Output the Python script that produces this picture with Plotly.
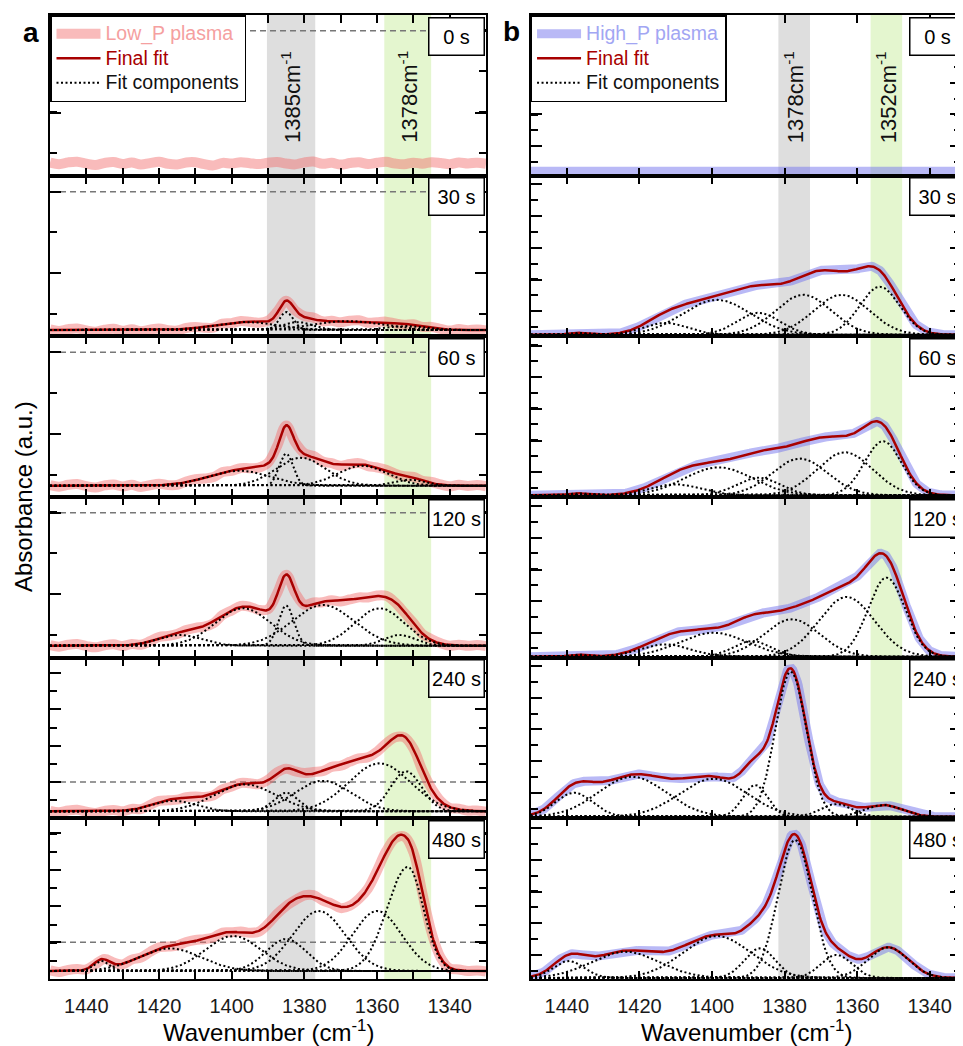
import numpy as np
import plotly.graph_objects as go
from plotly.subplots import make_subplots

# ---------------- data ----------------
TIMES = ["0 s", "30 s", "60 s", "120 s", "240 s", "480 s"]

# Low_P plasma (panel a): fitted components -> centre (cm-1), height (a.u.),
# FWHM on the high-wavenumber side and on the low-wavenumber side (cm-1)
LOWP_CENTER = [
    [],
    [1396.0, 1385.0, 1382.0, 1368.0, 1352.0],
    [1398.0, 1385.0, 1381.0, 1364.0, 1351.0],
    [1414.3, 1396.9, 1385.0, 1374.9, 1359.3, 1353.8],
    [1416.0, 1396.4, 1385.0, 1374.9, 1359.3, 1352.0],
    [1435.8, 1417.0, 1399.6, 1385.0, 1376.0, 1360.0, 1351.5],
]
LOWP_HEIGHT = [
    [],
    [8.0, 18.0, 8.0, 9.0, 4.0],
    [15.0, 32.0, 28.0, 20.0, 6.0],
    [10.7, 37.4, 40.0, 40.7, 37.4, 10.7],
    [10.6, 27.0, 18.6, 30.6, 48.0, 40.0],
    [10.0, 22.7, 35.0, 32.0, 60.0, 60.0, 104.0],
]
LOWP_FWHM = [
    [],
    [20, 4.5, 10, 22, 12],
    [20, 4.5, 16, 16, 10],
    [14, 18, 5, 20, 16, 10],
    [14, 20, 8, 18, 20, 10],
    [5, 20, 18, 13, 17, 16, 13.5],
]
LOWP_FWHM_LO = [
    [],
    [20, 4.5, 10, 22, 12],
    [20, 4.5, 16, 16, 10],
    [14, 18, 5, 20, 16, 10],
    [14, 20, 8, 18, 20, 10],
    [5, 20, 18, 13, 17, 16, 10],
]
# measured scatter of the Low_P spectra around the fit (a.u.), 1450 -> 1330 cm-1, every 2.5 cm-1
LOWP_NOISE = [0.6, -1.0, 0.9, 1.6, -0.4, -1.7, 0.3, 1.2, -0.7, 0.8,
              -1.3, 0.2, 1.5, -0.5, -1.2, 0.8, 1.0, -0.9, -2.1, 0.4,
              -0.3, 1.1, 0.1, -0.8, 0.6, 1.3, -0.2, -1.1, 0.9, 1.7,
              -0.5, 0.4, -1.3, 0.2, 1.0, -0.7, 0.5, 1.4, -0.3, -1.0,
              0.6, -0.4, 1.1, 0.3, -0.9, 0.8, -0.2, 0.6, -0.5]

# High_P plasma (panel b)
HIGHP_CENTER = [
    [],
    [1437.0, 1412.9, 1398.7, 1387.2, 1374.8, 1364.3, 1353.8],
    [1437.0, 1410.1, 1398.2, 1387.2, 1375.8, 1363.4, 1352.9],
    [1437.0, 1412.9, 1399.6, 1389.0, 1378.0, 1362.9, 1351.9],
    [1438.0, 1422.0, 1399.6, 1388.1, 1378.3, 1365.7, 1352.8],
    [1439.5, 1423.9, 1398.7, 1386.8, 1377.1, 1365.7, 1351.5],
]
HIGHP_HEIGHT = [
    [],
    [2.0, 12.0, 35.0, 22.0, 40.0, 40.0, 48.0],
    [2.0, 11.0, 28.0, 17.7, 36.7, 43.0, 54.0],
    [2.0, 12.4, 24.0, 15.7, 37.4, 59.7, 79.0],
    [24.0, 40.0, 38.0, 31.7, 145.0, 12.7, 11.7],
    [17.0, 26.3, 42.0, 29.7, 138.0, 23.0, 30.7],
]
HIGHP_FWHM = [
    [],
    [6, 14, 22, 14, 18, 18, 13],
    [6, 16, 22, 14, 18, 18, 12],
    [6, 16, 22, 12, 18, 18, 12],
    [12, 22, 22, 8, 10, 10, 12],
    [10, 22, 22, 10, 11, 10, 13],
]

# marker bands (cm-1) and their labels
A_BANDS = [(1390.3, 1377.0, "#dedede", "1385cm<sup>-1</sup>"),
           (1358.0, 1345.1, "#e4f6cf", "1378cm<sup>-1</sup>")]
B_BANDS = [(1381.7, 1373.0, "#dedede", "1378cm<sup>-1</sup>"),
           (1356.3, 1347.6, "#e4f6cf", "1352cm<sup>-1</sup>")]

# per-row y-axis settings (a.u.)
A_OFFSET = [12.4, 6.3, 11.3, 12.0, 7.0, 8.0]
A_MAJOR0 = [50.6, 56.7, 51.7, 51.7, 29.3, 28.7]
A_MAJORDT = [82.0, 81.6, 81.7, 81.3, 36.4, 36.4]
A_MINOR0 = [10.0, 16.0, 10.7, 10.7, 11.0, 10.0]
A_MINORDT = [41.0, 40.8, 41.0, 41.0, 18.2, 18.2]
A_DASH = [132.6, 138.3, 133.4, 133.0, 29.3, 28.7]

B_OFFSET = [4.5, 1.5, 1.7, 1.0, 1.6, 1.0]
B_MAJOR0 = [25.0, 23.6, 23.0, 23.7, 24.0, 23.0]
B_MAJORDT = [31.7] * 6
B_MINOR0 = [9.0, 7.8, 7.7, 8.2, 8.0, 7.3]
B_MINORDT = [15.85] * 6

X_TICKS = [1440, 1420, 1400, 1380, 1360, 1340]

# ---------------- figure ----------------
FONT = "Liberation Sans, Arial, Helvetica, sans-serif"
PAGE = 8                       # page body margin in the browser
W, H = 955, 1038
ML, MT = 42, 7
PW = 913
PH = 964
MR = W - ML - PW
MB = H - MT - PH
ROW_H = PH / 6.0


def px(p):   # page x pixel -> paper fraction
    return (p - PAGE - ML) / PW


def py(p):   # page y pixel -> paper fraction
    return (MT + PH - (p - PAGE)) / PH


PINK = "rgba(242,105,105,0.45)"
PINK_TXT = "#f5a0a0"
BLUE = "rgba(115,115,238,0.5)"
BLUE_TXT = "#a2a6f3"
RED = "#a80000"

XRANGE_A = [1450, 1330]
XRANGE_B = [1450, 1450 - 431.4 / 3.637]

fig = make_subplots(rows=6, cols=2, column_widths=[437, 431.4],
                    horizontal_spacing=44.6 / PW, vertical_spacing=0)

WN = np.arange(1450.0, 1329.9, -0.25)
NOISE_WN = np.linspace(1450.0, 1330.0, len(LOWP_NOISE))


def component(x, c, h, w_hi, w_lo=None):
    w = w_hi if w_lo is None else np.where(x >= c, w_hi, w_lo)
    return h * np.exp(-4.0 * np.log(2.0) * ((x - c) / w) ** 2)


def total(x, cs, hs, ws, wl):
    y = np.zeros_like(x)
    for c, h, w, w2 in zip(cs, hs, ws, wl):
        y = y + component(x, c, h, w, w2)
    return y


def ax_idx(r, c):
    return r * 2 + c + 1


def lname(text, color):
    return f'<span style="color:{color};font-size:19.5px">{text}</span>'


for col in range(2):
    legend_name = "legend" if col == 0 else "legend2"
    shown = {"data": False, "fit": False, "comp": False}
    for r in range(6):
        if col == 0:
            cs, hs, ws, wl = LOWP_CENTER[r], LOWP_HEIGHT[r], LOWP_FWHM[r], LOWP_FWHM_LO[r]
            dx = NOISE_WN
            dy = total(NOISE_WN, cs, hs, ws, wl) + np.array(LOWP_NOISE)
            dname = lname("Low_P plasma", PINK_TXT)
            dcol, dwidth, dshape = PINK, 10, "spline"
        else:
            cs, hs, ws = HIGHP_CENTER[r], HIGHP_HEIGHT[r], HIGHP_FWHM[r]
            wl = HIGHP_FWHM[r]
            dx = WN
            dy = total(WN, cs, hs, ws, wl)
            dname = lname("High_P plasma", BLUE_TXT)
            dcol, dwidth, dshape = BLUE, 9, "linear"
        fig.add_trace(go.Scatter(x=dx, y=dy, mode="lines", name=dname,
                                 line=dict(color=dcol, width=dwidth, shape=dshape),
                                 showlegend=not shown["data"], legend=legend_name,
                                 hoverinfo="skip"), row=r + 1, col=col + 1)
        shown["data"] = True
        if len(cs):
            fig.add_trace(go.Scatter(x=WN, y=total(WN, cs, hs, ws, wl), mode="lines",
                                     name=lname("Final fit", RED),
                                     line=dict(color=RED, width=2.5),
                                     showlegend=not shown["fit"], legend=legend_name,
                                     hoverinfo="skip"), row=r + 1, col=col + 1)
            shown["fit"] = True
            for c, h, w, w2 in zip(cs, hs, ws, wl):
                fig.add_trace(go.Scatter(x=WN, y=component(WN, c, h, w, w2), mode="lines",
                                         name=lname("Fit components", "#111111"),
                                         line=dict(color="black", width=2, dash="2px,2.5px"),
                                         showlegend=not shown["comp"], legend=legend_name,
                                         hoverinfo="skip"), row=r + 1, col=col + 1)
                shown["comp"] = True

# axes
for r in range(6):
    for col in range(2):
        if col == 0:
            off, m0, mdt, n0, ndt = A_OFFSET[r], A_MAJOR0[r], A_MAJORDT[r], A_MINOR0[r], A_MINORDT[r]
            xr = XRANGE_A
            xminor = dict(dtick=10, ticks="inside", ticklen=8, tickwidth=1.5, tickcolor="black")
        else:
            off, m0, mdt, n0, ndt = B_OFFSET[r], B_MAJOR0[r], B_MAJORDT[r], B_MINOR0[r], B_MINORDT[r]
            xr = XRANGE_B
            xminor = dict(ticks="")
        fig.update_yaxes(row=r + 1, col=col + 1, range=[-off, ROW_H - off],
                         tick0=m0, dtick=mdt, ticks="inside", ticklen=11, tickwidth=1.5,
                         tickcolor="black",
                         minor=dict(tick0=n0, dtick=ndt, ticks="inside", ticklen=7,
                                    tickwidth=1.5, tickcolor="black"),
                         showticklabels=False, showline=True, linewidth=2, linecolor="black",
                         mirror="ticks", showgrid=False, zeroline=False, fixedrange=True)
        fig.update_xaxes(row=r + 1, col=col + 1, range=xr, tickvals=X_TICKS,
                         ticktext=[str(v) for v in X_TICKS],
                         ticks="inside", ticklen=8, tickwidth=1.5, tickcolor="black",
                         minor=xminor, showticklabels=(r == 5),
                         tickfont=dict(family=FONT, size=20, color="#1a1a1a"),
                         ticklabelstandoff=8,
                         showline=True, linewidth=2, linecolor="black", mirror="ticks",
                         showgrid=False, zeroline=False, fixedrange=True)

shapes = []
annotations = []
# bands spanning the whole column
for col, bands in ((0, A_BANDS), (1, B_BANDS)):
    xref = "x" if col == 0 else "x2"
    for x0, x1, colr, label in bands:
        shapes.append(dict(type="rect", xref=xref, yref="paper", x0=x0, x1=x1, y0=0, y1=1,
                           fillcolor=colr, line=dict(width=0), layer="below"))
        annotations.append(dict(xref=xref, yref="y domain" if col == 0 else "y2 domain",
                                x=(x0 + x1) / 2, y=0.49, text=label, textangle=-90,
                                showarrow=False, xanchor="center", yanchor="middle",
                                font=dict(family=FONT, size=22, color="#111")))
# dashed reference lines (panel a)
for r in range(6):
    i = ax_idx(r, 0)
    shapes.append(dict(type="line", xref=f"x{i} domain" if i > 1 else "x domain",
                       yref=f"y{i}" if i > 1 else "y", x0=0, x1=1,
                       y0=A_DASH[r], y1=A_DASH[r],
                       line=dict(color="#777777", width=1.5, dash="6px,4px"), layer="below"))
# time labels
for r in range(6):
    for col in range(2):
        i = ax_idx(r, col)
        xs = "" if i == 1 else str(i)
        annotations.append(dict(xref=f"x{xs} domain", yref=f"y{xs} domain",
                                x=0.867 if col == 0 else 0.8795, y=1,
                                xanchor="left", yanchor="top", yshift=-1.5,
                                text=TIMES[r], showarrow=False, align="center",
                                width=52, height=34, borderpad=1,
                                bordercolor="black", borderwidth=1.5, bgcolor="white",
                                font=dict(family=FONT, size=20, color="black")))
# panel letters and titles
annotations += [
    dict(xref="paper", yref="paper", x=px(30.5), y=py(32),
         text="<b>a</b>", showarrow=False, xanchor="center", yanchor="middle",
         font=dict(family=FONT, size=28, color="black")),
    dict(xref="paper", yref="paper", x=px(513), y=py(31),
         text="<b>b</b>", showarrow=False, xanchor="center", yanchor="middle",
         font=dict(family=FONT, size=28, color="black")),
    dict(xref="paper", yref="paper", x=px(23), y=py(497), text="Absorbance (a.u.)",
         textangle=-90, showarrow=False, xanchor="center", yanchor="middle",
         font=dict(family=FONT, size=24, color="black")),
    dict(xref="paper", yref="paper", x=px(268.5), y=py(1031),
         text="Wavenumber (cm<sup>-1</sup>)", showarrow=False, xanchor="center",
         yanchor="middle", font=dict(family=FONT, size=24, color="black")),
    dict(xref="paper", yref="paper", x=px(748), y=py(1031),
         text="Wavenumber (cm<sup>-1</sup>)", showarrow=False, xanchor="center",
         yanchor="middle", font=dict(family=FONT, size=24, color="black")),
]

legend_style = dict(font=dict(family=FONT, size=16.5, color="black"), bgcolor="white",
                    bordercolor="black", borderwidth=1.5, xanchor="left", yanchor="top",
                    y=1, itemwidth=44, tracegroupgap=0, traceorder="normal",
                    itemclick=False, itemdoubleclick=False)

fig.update_layout(
    width=W, height=H, margin=dict(l=ML, r=MR, t=MT, b=MB),
    paper_bgcolor="white", plot_bgcolor="white",
    font=dict(family=FONT, color="black"),
    shapes=shapes, annotations=annotations,
    legend=dict(x=0, **legend_style),
    legend2=dict(x=px(531.6), **legend_style),
    showlegend=True,
)

fig.write_html("out.html")
